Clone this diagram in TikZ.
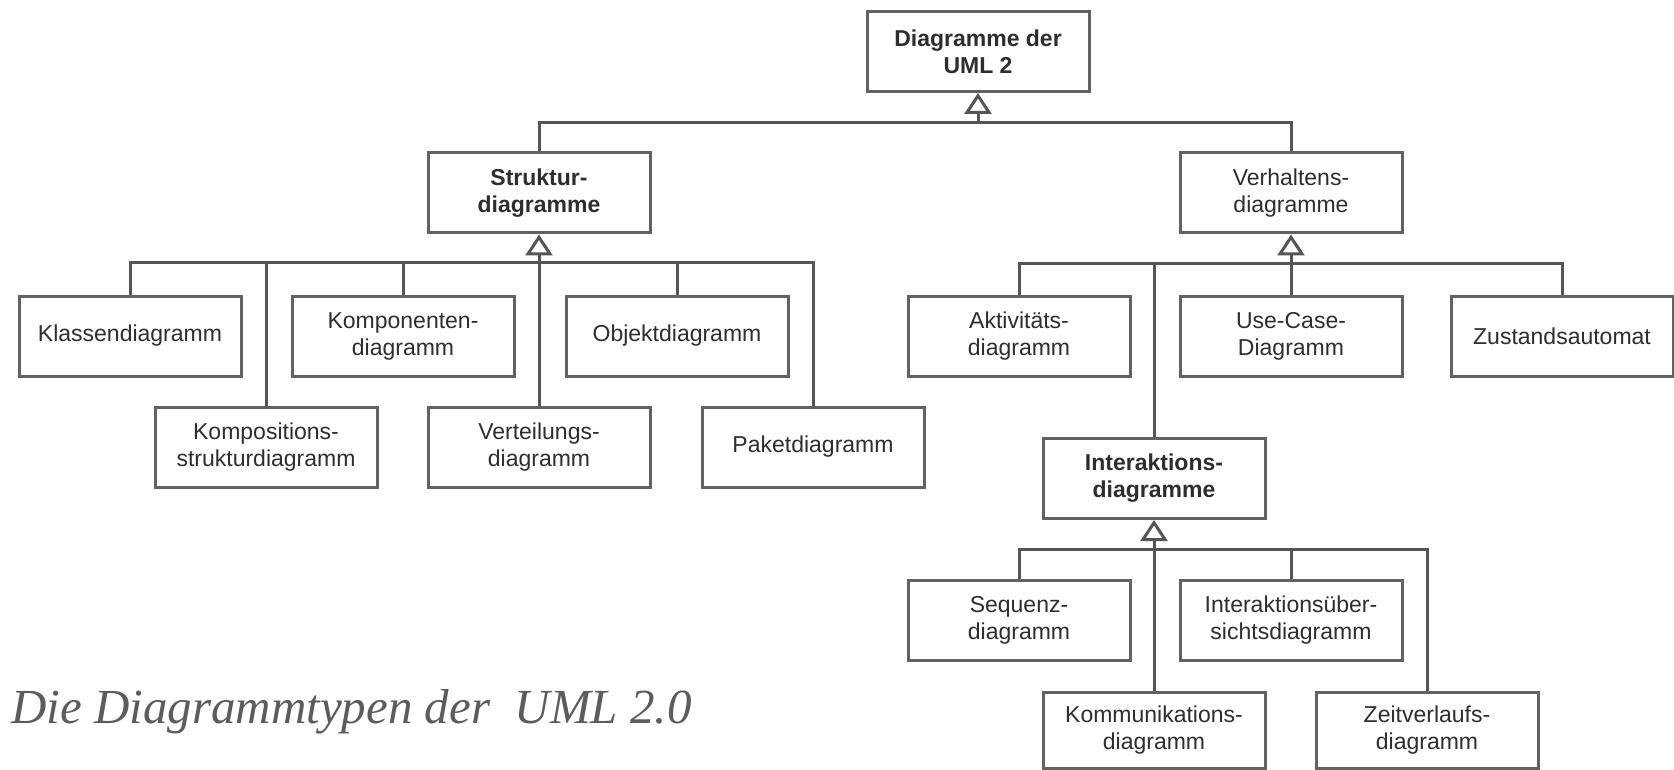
\documentclass[tikz,border=0pt]{standalone}
\usepackage{fontspec}
\setmainfont{Liberation Sans}
\newfontfamily\capfont{Liberation Serif}
\usetikzlibrary{arrows.meta}
\definecolor{boxgray}{HTML}{626262}
\definecolor{linegray}{HTML}{555555}
\definecolor{txtgray}{HTML}{2E2E2E}
\definecolor{capgray}{HTML}{5C5C5C}
\tikzset{
  umlbox/.style={draw=boxgray, line width=3pt, fill=white, rectangle,
    minimum width=222pt, minimum height=80pt, inner sep=2pt, align=center,
    text=txtgray, font=\fontsize{23}{27}\selectfont},
  boldbox/.style={umlbox, font=\fontsize{23}{27}\selectfont\bfseries},
  conn/.style={draw=linegray, line width=3pt},
  gen/.style={conn, -{Triangle[open, width=27pt, length=21pt, fill=white]}},
}
\begin{document}
\begin{tikzpicture}[x=1pt,y=-1pt]
\useasboundingbox (0,0) rectangle (1674,770);
\fill[white] (0,0) rectangle (1674,770);

% nodes
\node[boldbox] (top) at (978,51.5) {Diagramme der\\UML 2};
\node[boldbox] (struk) at (539,193) {Struktur-\\diagramme};
\node[umlbox] (verh) at (1291,193) {Verhaltens-\\diagramme};

\node[umlbox] (klassen) at (130,336) {Klassendiagramm};
\node[umlbox] (kompon) at (403,336) {Komponenten-\\diagramm};
\node[umlbox] (objekt) at (677,336) {Objektdiagramm};
\node[umlbox] (kompos) at (266,447) {Kompositions-\\strukturdiagramm};
\node[umlbox] (verteil) at (539,447) {Verteilungs-\\diagramm};
\node[umlbox] (paket) at (813,447) {Paketdiagramm};

\node[umlbox] (aktiv) at (1019,336) {Aktivitäts-\\diagramm};
\node[umlbox] (usecase) at (1291,336) {Use-Case-\\Diagramm};
\node[umlbox] (zustand) at (1562,336) {Zustandsautomat};

\node[boldbox] (inter) at (1154,478.5) {Interaktions-\\diagramme};
\node[umlbox] (sequenz) at (1019,620.5) {Sequenz-\\diagramm};
\node[umlbox] (uebers) at (1291,620.5) {Interaktionsüber-\\sichtsdiagramm};
\node[umlbox, minimum height=76pt] (kommun) at (1154,730) {Kommunikations-\\diagramm};
\node[umlbox, minimum height=76pt] (zeit) at (1427,730) {Zeitverlaufs-\\diagramm};

% junction coordinates
\coordinate (jT) at (978,123);
\coordinate (jS) at (539,263);
\coordinate (jV) at (1291,264);
\coordinate (jI) at (1154,549);

% top level
\draw[conn] (struk.north) |- (jT);
\draw[conn] (verh.north) |- (jT);
\draw[gen] (jT) -- (top.south);

% Struktur children
\draw[conn] (klassen.north) |- (jS);
\draw[conn] (kompon.north) |- (jS);
\draw[conn] (objekt.north) |- (jS);
\draw[conn] (kompos.north) |- (jS);
\draw[conn] (paket.north) |- (jS);
\draw[conn] (verteil.north) -- (jS);
\draw[gen] (jS) -- (struk.south);

% Verhaltens children
\draw[conn] (aktiv.north) |- (jV);
\draw[conn] (zustand.north) |- (jV);
\draw[conn] (inter.north) |- (jV);
\draw[conn] (usecase.north) -- (jV);
\draw[gen] (jV) -- (verh.south);

% Interaktions children
\draw[conn] (sequenz.north) |- (jI);
\draw[conn] (uebers.north) |- (jI);
\draw[conn] (zeit.north) |- (jI);
\draw[conn] (kommun.north) -- (jI);
\draw[gen] (jI) -- (inter.south);

% caption
\node[anchor=base west, inner sep=0pt, text=capgray,
  font=\capfont\itshape\fontsize{49}{53}\selectfont] (caption) at (11,723)
  {Die Diagrammtypen der~ UML 2.0};
\end{tikzpicture}
\end{document}
